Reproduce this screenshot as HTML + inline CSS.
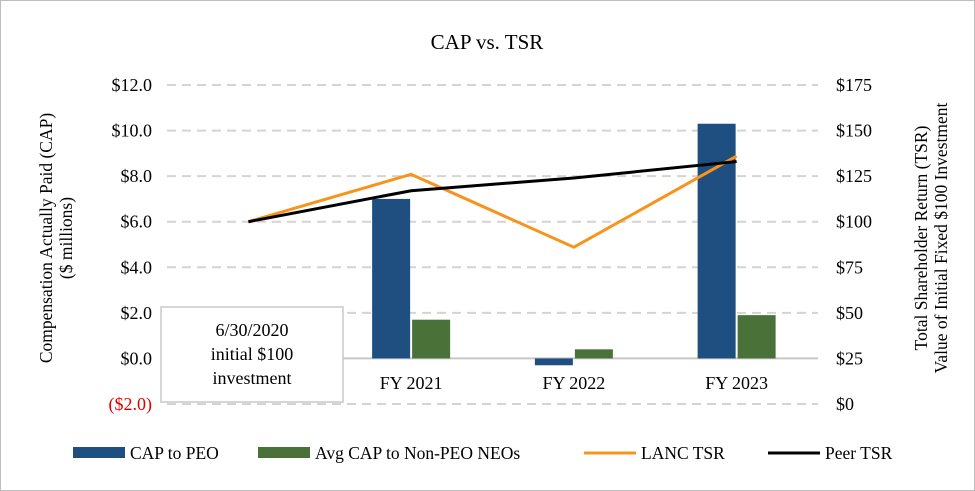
<!DOCTYPE html>
<html><head><meta charset="utf-8"><style>
body{margin:0;background:#fff}
svg{display:block;font-family:"Liberation Serif",serif}
</style></head><body>
<svg id="c" width="975" height="491">
<rect x="0.5" y="0.5" width="974" height="490" fill="#fff" stroke="#bdbdbd"/>
<text x="487" y="49" font-size="21" text-anchor="middle">CAP vs. TSR</text>
<g id="grid"></g><g id="bars"></g><g id="lines"></g><g id="axes"></g>
<text transform="translate(52,238) rotate(-90)" font-size="17.5" text-anchor="middle"><tspan x="0" dy="0">Compensation Actually Paid (CAP)</tspan><tspan x="0" dy="20">($ millions)</tspan></text>
<text transform="translate(927,238) rotate(-90)" font-size="17.5" text-anchor="middle"><tspan x="0" dy="0">Total Shareholder Return (TSR)</tspan><tspan x="0" dy="20">Value of Initial Fixed $100 Investment</tspan></text>
<g>
<rect x="161" y="307" width="182" height="95" fill="#fff" stroke="#c8c8c8" stroke-width="1.5"/>
<text x="252" y="336" font-size="18" text-anchor="middle">6/30/2020</text>
<text x="252" y="360" font-size="18" text-anchor="middle">initial $100</text>
<text x="252" y="384" font-size="18" text-anchor="middle">investment</text>
</g>
<g font-size="17.5">
<rect x="73" y="447" width="52" height="11" fill="#1f4e80"/>
<text x="130" y="459">CAP to PEO</text>
<rect x="258" y="447" width="52" height="11" fill="#4a7238"/>
<text x="315" y="459">Avg CAP to Non-PEO NEOs</text>
<line x1="584" y1="453" x2="636" y2="453" stroke="#f7941d" stroke-width="3"/>
<text x="641" y="459">LANC TSR</text>
<line x1="768" y1="453" x2="820" y2="453" stroke="#000" stroke-width="3"/>
<text x="825" y="459">Peer TSR</text>
</g>
</svg>
<script>
const categories=["","FY 2021","FY 2022","FY 2023"];
const capPeo=[null,7.0,-0.3,10.3];
const capAvg=[null,1.7,0.4,1.9];
const lancTsr=[100,126,86,136];
const peerTsr=[100,117,124,133];
const leftTicks=[-2,0,2,4,6,8,10,12];
const rightTicks=[0,25,50,75,100,125,150,175];
const NS="http://www.w3.org/2000/svg";
const X0=167,X1=818,plotTop=85,plotBottom=404;
const yL=v=>plotBottom-(v+2)/14*(plotBottom-plotTop);
const yR=v=>plotBottom-v/175*(plotBottom-plotTop);
const step=(X1-X0)/4;
const xC=i=>X0+step*(i+0.5);
function mk(t,a,p){const e=document.createElementNS(NS,t);for(const k in a)e.setAttribute(k,a[k]);document.getElementById(p).appendChild(e);return e;}
leftTicks.forEach(v=>{
 const g=mk('line',{x1:X0,x2:X1,y1:yL(v),y2:yL(v),stroke:v===0?'#c8c8c8':'#d4d4d4','stroke-width':2,'stroke-dasharray':v===0?'none':'9,6'},'grid');
 
 
 const t=mk('text',{x:152,y:yL(v)+6,'font-size':18,'text-anchor':'end',fill:v<0?'#e00000':'#000'},'axes');
 t.textContent=v<0?'($'+Math.abs(v).toFixed(1)+')':'$'+v.toFixed(1);
 
 
});
rightTicks.forEach(v=>{
 const t=mk('text',{x:836,y:yR(v)+6,'font-size':18},'axes');
 t.textContent='$'+v;
 
 
});
categories.forEach((c,i)=>{
 if(!c)return;
 const t=mk('text',{x:xC(i),y:389,'font-size':18,'text-anchor':'middle'},'axes');
 t.textContent=c;
 
 
});
const bw=38;
function bar(v,i,off,col,name){
 if(v==null)return;
 const y0=yL(0),y1=yL(v);
 const r=mk('rect',{x:xC(i)+off,y:Math.min(y0,y1),width:bw,height:Math.abs(y1-y0),fill:col},'bars');
 
 
}
capPeo.forEach((v,i)=>bar(v,i,-bw-1,'#1f4e80','bar-cap-peo'));
capAvg.forEach((v,i)=>bar(v,i,1,'#4a7238','bar-avg-cap'));
function line(arr,col,name){
 const p=mk('polyline',{points:arr.map((v,i)=>xC(i)+','+yR(v)).join(' '),fill:'none',stroke:col,'stroke-width':3},'lines');
 
 
}
line(lancTsr,'#f7941d','line-lanc-tsr');
line(peerTsr,'#000','line-peer-tsr');
</script>
</body></html>
